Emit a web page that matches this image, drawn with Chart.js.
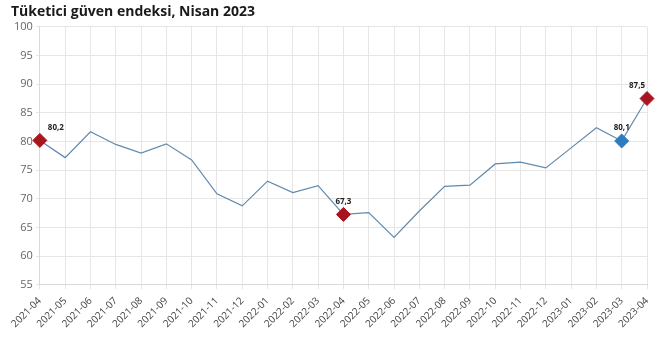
<!DOCTYPE html>
<html lang="tr">
<head>
<meta charset="utf-8">
<title>Tüketici güven endeksi</title>
<script src="https://cdn.jsdelivr.net/npm/chart.js@4/dist/chart.umd.min.js"></script>
<style>
    html, body { margin: 0; padding: 0; background: #fff; }
    #wrap { width: 664px; height: 348px; position: relative; }
</style>
</head>
<body>
<div id="wrap"><canvas id="guvenChart"></canvas></div>
<script>
const months = [
    '2021-04', '2021-05', '2021-06', '2021-07', '2021-08', '2021-09', '2021-10',
    '2021-11', '2021-12', '2022-01', '2022-02', '2022-03', '2022-04', '2022-05',
    '2022-06', '2022-07', '2022-08', '2022-09', '2022-10', '2022-11', '2022-12',
    '2023-01', '2023-02', '2023-03', '2023-04'
];
const indexValues = [
    80.2, 77.2, 81.7, 79.5, 78.0, 79.6, 76.8,
    70.9, 68.8, 73.1, 71.1, 72.3, 67.3, 67.6,
    63.3, 67.9, 72.2, 72.4, 76.1, 76.4, 75.4,
    78.9, 82.4, 80.1, 87.5
];
const yTicks = [55, 60, 65, 70, 75, 80, 85, 90, 95, 100];

// months whose value is marked and labelled
const redMarks = ['2021-04', '2022-04', '2023-04'];
const blueMarks = ['2023-03'];

class IndexChart {
    constructor() {
        this.init();
    }

    init() {
        this.createLineChart();
    }

    markerColor(i) {
        const m = months[i];
        if (redMarks.includes(m)) return '#a8151f';
        if (blueMarks.includes(m)) return '#2f7bc0';
        return 'rgba(0,0,0,0)';
    }

    isMarked(i) {
        const m = months[i];
        return redMarks.includes(m) || blueMarks.includes(m);
    }

    createLineChart() {
        const ctx = document.getElementById('guvenChart');
        if (!ctx) return;

        // writes the value of each marked point above its diamond
        const valueLabels = {
            id: 'valueLabels',
            afterDatasetsDraw: (chart) => {
                const c = chart.ctx;
                const meta = chart.getDatasetMeta(0);
                const area = chart.chartArea;
                c.save();
                c.font = 'bold 8px "Open Sans", sans-serif';
                c.fillStyle = '#222';
                c.textBaseline = 'bottom';
                meta.data.forEach((pt, i) => {
                    if (!this.isMarked(i)) return;
                    const text = indexValues[i].toFixed(1).replace('.', ',');
                    const w = c.measureText(text).width;
                    let x = pt.x - w / 2;
                    if (x < area.left + 2) x = pt.x + 8;
                    if (x + w > area.right) x = pt.x - w - 2;
                    c.fillText(text, x, pt.y - 9);
                });
                c.restore();
            }
        };

        const data = {
            labels: months,
            datasets: [{
                label: 'Tüketici güven endeksi',
                data: indexValues,
                borderColor: '#5f8aae',
                borderWidth: 1.2,
                tension: 0,
                fill: false,
                pointStyle: 'rectRot',
                pointRadius: (c) => this.isMarked(c.dataIndex) ? 7 : 0,
                pointHoverRadius: (c) => this.isMarked(c.dataIndex) ? 7 : 0,
                pointBackgroundColor: (c) => this.markerColor(c.dataIndex),
                pointBorderColor: (c) => this.markerColor(c.dataIndex),
                pointBorderWidth: 1
            }]
        };

        const config = {
            type: 'line',
            data: data,
            options: {
                responsive: true,
                maintainAspectRatio: false,
                animation: false,
                layout: { padding: { left: 11, right: 17, top: 0, bottom: 12 } },
                plugins: {
                    legend: { display: false },
                    tooltip: { enabled: false },
                    title: {
                        display: true,
                        text: 'Tüketici güven endeksi, Nisan 2023',
                        align: 'start',
                        color: '#1a1a1a',
                        font: { family: '"Open Sans", sans-serif', size: 14, weight: 'bold' },
                        padding: { top: 4, bottom: 6 }
                    }
                },
                scales: {
                    x: {
                        offset: false,
                        grid: { color: '#e6e6e6', drawTicks: true, tickLength: 4 },
                        border: { color: '#d9d9d9' },
                        ticks: {
                            color: '#444',
                            font: { family: '"Open Sans", sans-serif', size: 10 },
                            maxRotation: 45,
                            minRotation: 45,
                            autoSkip: false,
                            padding: 6
                        }
                    },
                    y: {
                        min: yTicks[0],
                        max: yTicks[yTicks.length - 1],
                        afterBuildTicks: (axis) => {
                            axis.ticks = yTicks.map(v => ({ value: v }));
                        },
                        grid: { color: '#e6e6e6', tickLength: 4 },
                        border: { color: '#d9d9d9' },
                        ticks: {
                            color: '#666',
                            font: { family: '"Open Sans", sans-serif', size: 11 },
                            padding: 3
                        }
                    }
                }
            },
            plugins: [valueLabels]
        };

        new Chart(ctx, config);
    }
}

document.addEventListener('DOMContentLoaded', () => {
    new IndexChart();
});
</script>
</body>
</html>
